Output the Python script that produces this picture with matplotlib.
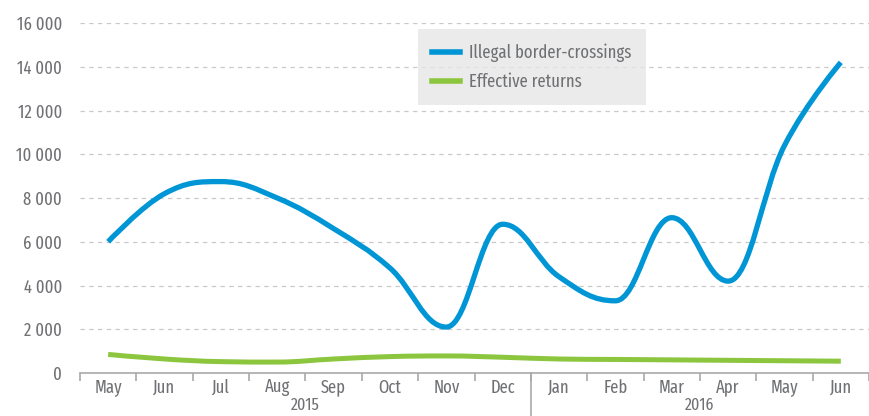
import numpy as np
import matplotlib
matplotlib.use("Agg")
import matplotlib.pyplot as plt
from matplotlib.path import Path
from matplotlib.patches import PathPatch
from matplotlib.lines import Line2D

plt.rcParams['font.family'] = ['Fira Sans Extra Condensed', 'Fira Sans Condensed',
                               'DejaVu Sans']

### data
months = ['May', 'Jun', 'Jul', 'Aug', 'Sep', 'Oct', 'Nov', 'Dec',
          'Jan', 'Feb', 'Mar', 'Apr', 'May', 'Jun']
years = ['2015', '2016']
year_months = [8, 6]
crossings = [6000, 8200, 8750, 8000, 6600, 4800, 2100, 6800,
             4400, 3300, 7100, 4200, 10400, 14200]
returns = [850, 640, 520, 500, 640, 750, 780, 720,
           640, 620, 600, 580, 560, 540]

BLUE = '#0096d6'
GREEN = '#8cc63f'
GREY = '#707174'


def spline_path(xs, ys, smoothing=1.5):
    # highcharts-like spline: bezier control points, no false extremes
    denom = smoothing + 1
    n = len(xs)
    lc = [None] * n
    rc = [None] * n
    for i in range(1, n - 1):
        lx, ly = xs[i - 1], ys[i - 1]
        px, py = xs[i], ys[i]
        nx, ny = xs[i + 1], ys[i + 1]
        lcx = (smoothing * px + lx) / denom
        lcy = (smoothing * py + ly) / denom
        rcx = (smoothing * px + nx) / denom
        rcy = (smoothing * py + ny) / denom
        corr = (rcy - lcy) * (rcx - px) / (rcx - lcx) + py - rcy
        lcy += corr
        rcy += corr
        if lcy > ly and lcy > py:
            lcy = max(ly, py)
            rcy = 2 * py - lcy
        elif lcy < ly and lcy < py:
            lcy = min(ly, py)
            rcy = 2 * py - lcy
        if rcy > ny and rcy > py:
            rcy = max(ny, py)
            lcy = 2 * py - rcy
        elif rcy < ny and rcy < py:
            rcy = min(ny, py)
            lcy = 2 * py - rcy
        lc[i] = (lcx, lcy)
        rc[i] = (rcx, rcy)
    verts = [(xs[0], ys[0])]
    codes = [Path.MOVETO]
    for i in range(1, n):
        c1 = rc[i - 1] if rc[i - 1] is not None else (xs[i - 1], ys[i - 1])
        c2 = lc[i] if lc[i] is not None else (xs[i], ys[i])
        verts += [c1, c2, (xs[i], ys[i])]
        codes += [Path.CURVE4] * 3
    return Path(verts, codes)


fig = plt.figure(figsize=(8.69, 4.16), dpi=100)
ax = fig.add_axes([80 / 869, 43 / 416, 789 / 869, 350 / 416])

x = np.arange(len(months))
step = 789 / 56.8
ax.set_xlim(-0.5, -0.5 + step)
ax.set_ylim(0, 16000)

for vals, col, lw in [(returns, GREEN, 3.6), (crossings, BLUE, 3.8)]:
    p = spline_path(list(x.astype(float)), [float(v) for v in vals])
    ax.add_patch(PathPatch(p, facecolor='none', edgecolor=col, lw=lw,
                           capstyle='butt', zorder=3))

# grid and axes styling
ax.set_yticks(np.arange(0, 16001, 2000))
ax.set_yticklabels(['0'] + ['{:,}'.format(v).replace(',', ' ')
                            for v in range(2000, 16001, 2000)])
for v in range(2000, 16001, 2000):
    ax.axhline(v, color='#c9c9c9', lw=0.9, ls=(0, (3.5, 3.5)), zorder=1)
for s in ['left', 'top', 'right']:
    ax.spines[s].set_visible(False)
ax.spines['bottom'].set_color('#a7a9ac')
ax.spines['bottom'].set_linewidth(1.2)
ax.tick_params(axis='y', length=0, pad=13, labelsize=13, labelcolor=GREY)

ax.set_xticks(x)
ax.set_xticklabels(months)
ax.set_xticks(np.arange(-0.5, 14.0, 1), minor=True)
ax.tick_params(axis='x', which='major', length=0, pad=4, labelsize=13,
               labelcolor=GREY)
ax.tick_params(axis='x', which='minor', length=6, width=1.2,
               color='#a7a9ac', direction='out')

# year labels and separator
start = 0
for yr, cnt in zip(years, year_months):
    mid = start + cnt / 2 - 0.5
    ax.text(mid, -0.092, yr, transform=ax.get_xaxis_transform(),
            ha='center', va='center', fontsize=12.5, color=GREY)
    start += cnt
ax.plot([7.5, 7.5], [0, -0.15], transform=ax.get_xaxis_transform(),
        color='#a7a9ac', lw=1.2, clip_on=False)

# legend
handles = [Line2D([], [], color=BLUE, lw=4),
           Line2D([], [], color=GREEN, lw=4)]
leg = fig.legend(handles, ['Illegal border-crossings', 'Effective returns'],
                 loc='upper left', bbox_to_anchor=(418 / 869, 1 - 29 / 416),
                 frameon=True, fancybox=False, fontsize=13,
                 handlelength=1.55, handletextpad=0.5, labelspacing=0.6,
                 borderpad=0.8, borderaxespad=0)
leg.get_frame().set_facecolor('#e6e6e7')
leg.get_frame().set_edgecolor('none')
for t in leg.get_texts():
    t.set_color(GREY)

plt.savefig('out.png', dpi=100)
